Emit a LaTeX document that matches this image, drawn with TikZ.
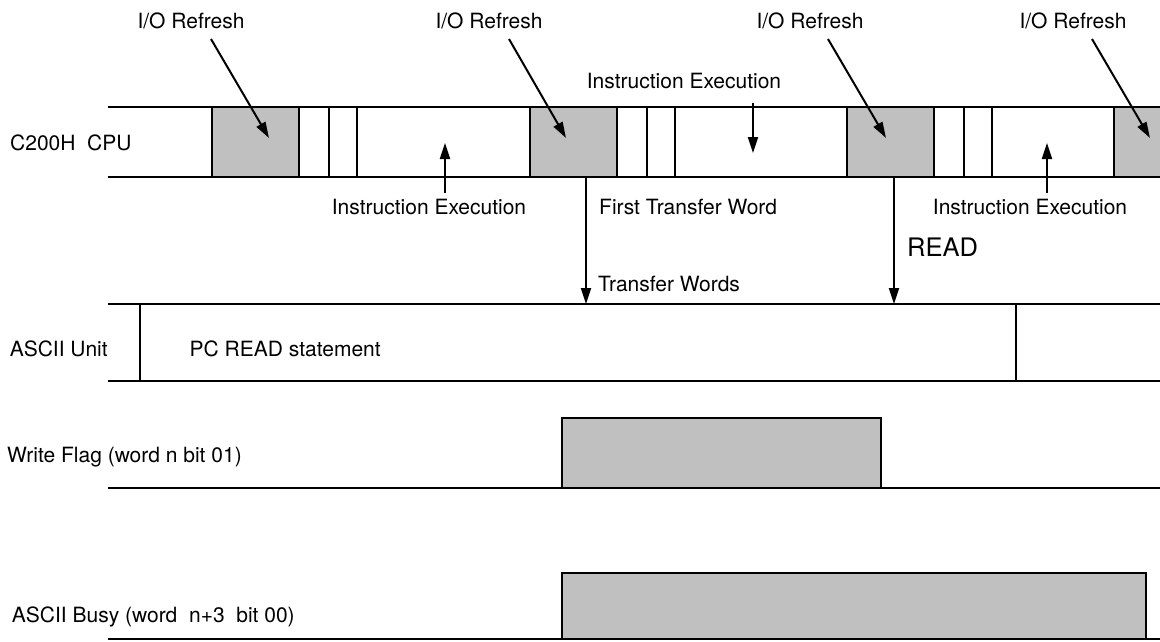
\documentclass[tikz,border=0pt]{standalone}
\usepackage{fontspec}
\setmainfont{TeX Gyre Heros}
\usetikzlibrary{arrows.meta}
\definecolor{refreshgray}{RGB}{192,192,192}

\begin{document}
\begin{tikzpicture}[x=1pt,y=-1pt,>={Triangle[length=16pt,width=10pt]}]
\tikzset{track/.style={draw=black,line width=2pt}, slot/.style={fill=refreshgray,draw=black,line width=2.6pt},
  lab/.style={font=\fontsize{21}{25}\selectfont,inner sep=0pt}, ptr/.style={->,line width=2pt}}
\useasboundingbox (0,0) rectangle (1160,641);
% C200H CPU
\draw[track] (108,107) -- (1160,107) (108,177) -- (1160,177);
\foreach \x in {212,530,847,1114}
  \draw[slot] (\x,107) rectangle +(87,70);
\foreach \x in {329,357,647,675,964,992}
  \draw[track] (\x,107) -- (\x,177);
\node[lab,anchor=base west] (cpu) at (10,150.7) {C200H\ \ CPU};
\foreach \i/\lx/\sx/\tx in {1/191/211/269,2/489/509/566,3/810/828/886,4/1073/1092/1150} {
  \node[lab,anchor=base] (io\i) at (\lx,28) {I/O Refresh};
  \coordinate (ios\i) at (\sx,39);
  \coordinate (iot\i) at (\tx,138);
  \draw[ptr] (ios\i) -- (iot\i);
}
\node[lab,anchor=base] (ietop) at (684,88) {Instruction Execution};
\coordinate (ietops) at (753,102.7);
\coordinate (ietopt) at (753,153);
\draw[ptr] (ietops) -- (ietopt);
\node[lab,anchor=base] (ieleft) at (429,214) {Instruction Execution};
\node[lab,anchor=base] (ieright) at (1030,214) {Instruction Execution};
\coordinate (ielefts) at (445,193);
\coordinate (ieleftt) at (445,143);
\coordinate (ierights) at (1047,193);
\coordinate (ierightt) at (1047,143);
\draw[ptr] (ielefts) -- (ieleftt);
\draw[ptr] (ierights) -- (ierightt);
\node[lab,anchor=base west] (first) at (599,214) {First Transfer Word};
% ASCII Unit
\draw[track] (108,304) -- (1160,304) (108,381) -- (1160,381);
\draw[track] (140,304) -- (140,381) (1016,304) -- (1016,381);
\node[lab,anchor=base west] (unit) at (9.6,356) {ASCII Unit};
\node[lab,anchor=base west] (stmt) at (189.5,356) {PC READ statement};
\coordinate (xfers) at (586,177);
\coordinate (xfert) at (586,304);
\coordinate (reads) at (894,177);
\coordinate (readt) at (894,304);
\draw[ptr] (xfers) -- (xfert);
\draw[ptr] (reads) -- (readt);
\node[lab,anchor=base west] (xfer) at (598,291) {Transfer Words};
\node[lab,anchor=base west,font=\fontsize{25.5}{30}\selectfont] (read) at (907,256.7) {READ};
% Write Flag
\draw[track] (108,488) -- (1160,488);
\draw[slot] (562,418) rectangle (881,488);
\node[lab,anchor=base west] (wflag) at (7,462) {Write Flag (word n bit 01)};
% ASCII Busy
\draw[track] (108,639) -- (1160,639);
\draw[slot] (562,573) rectangle (1146,639);
\node[lab,anchor=base west] (busy) at (11.7,622) {ASCII Busy (word\ \ n+3\ \ bit 00)};
\end{tikzpicture}
\end{document}
